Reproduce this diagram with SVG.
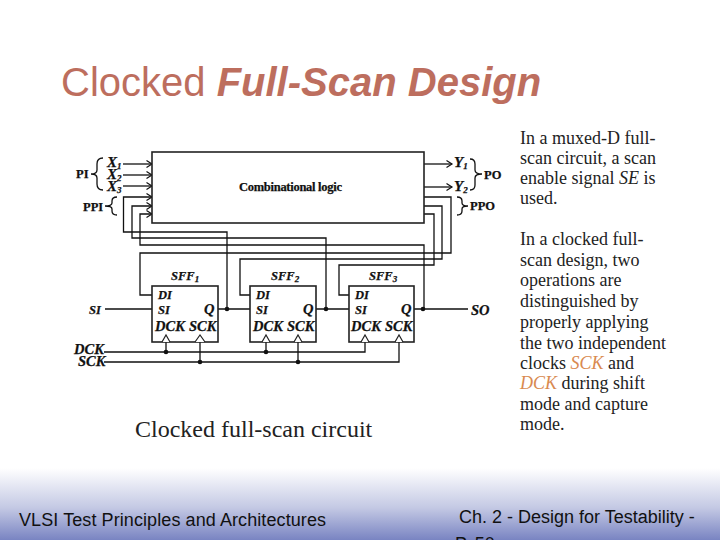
<svg xmlns="http://www.w3.org/2000/svg" width="720" height="540" viewBox="0 0 720 540">
<style>
.w{fill:none;stroke:#111;stroke-width:1.3}
.b{fill:#fff;stroke:#222;stroke-width:1.6}
.l{font:bold 12.500px "Liberation Serif",serif;fill:#111;stroke:#111;stroke-width:.25}
.i{font:italic bold 12.500px "Liberation Serif",serif;fill:#111;stroke:#111;stroke-width:.25}
.k{font-size:14.500px}
.x{font-size:15px}
.s{font-size:9px}
.r{font:18px "Liberation Serif",serif;fill:#222}
.o{font-style:italic;fill:#d98a50}
.f{font:18px "Liberation Sans",sans-serif;fill:#111}
.d{fill:#111}
.t{fill:#fff;stroke:#222;stroke-width:1.2}
</style>
<defs>
<linearGradient id="g" x1="0" y1="0" x2="0" y2="1"><stop offset="0" stop-color="#fff"/><stop offset="0.55" stop-color="#c4c9e4"/><stop offset="1" stop-color="#7984c2"/></linearGradient>
<marker id="a" markerWidth="8" markerHeight="8" refX="6.500" refY="4" orient="auto" markerUnits="userSpaceOnUse"><path d="M1 0.500L6.500 4L1 7.500" fill="none" stroke="#111" stroke-width="1.200"/></marker>
</defs>
<rect width="720" height="540" fill="#fff"/>
<rect y="468" width="720" height="72" fill="url(#g)"/>
<text x="61" y="96" font-family="Liberation Sans,sans-serif" font-size="40" fill="#bd6e5e">Clocked <tspan font-weight="bold" font-style="italic">Full-Scan Design</tspan></text>

<g id="connectors">
<path class="w" marker-end="url(#a)" d="M123 164H152"/>
<path class="w" marker-end="url(#a)" d="M123 175H152"/>
<path class="w" marker-end="url(#a)" d="M123 186H152"/>
<path class="w" marker-end="url(#a)" d="M227 309V232H123.500V197H152"/>
<path class="w" marker-end="url(#a)" d="M326 309V238H132V206H152"/>
<path class="w" marker-end="url(#a)" d="M424 309V245H140V214H152"/>
<path class="w" marker-end="url(#a)" d="M424 164H452"/>
<path class="w" marker-end="url(#a)" d="M424 187H452"/>
<path class="w" d="M424 197H451V253H140V295H152"/>
<path class="w" d="M424 206H442V259H240V295H250"/>
<path class="w" d="M424 214H434V265H339V295H349"/>
<path class="w" d="M105 309H152M218 309H250M316 309H349M414 309H468"/>
<path class="w" d="M104 352H365V342M104 362H399V342M166 352V342M200 362V342M266 352V342M298 362V342"/>
<circle class="d" cx="227" cy="309" r="2.300"/><circle class="d" cx="326" cy="309" r="2.300"/><circle class="d" cx="423" cy="309" r="2.300"/>
<circle class="d" cx="166" cy="352" r="2.300"/><circle class="d" cx="200" cy="362" r="2.300"/><circle class="d" cx="266" cy="352" r="2.300"/><circle class="d" cx="298" cy="362" r="2.300"/>
<path class="w" d="M103 158C98 158 97 161 97 164V170C97 172 95 174 91 174C95 174 97 176 97 178V184C97 187 98 190 103 190"/>
<path class="w" d="M117 197C113 197 112 199 112 201V203C112 205 109 206 105 206C109 206 112 207 112 209V211C112 213 113 215 117 215"/>
<path class="w" d="M470 159C474 159 475 161 475 164V170C475 172 477 174 482 174C477 174 475 176 475 178V185C475 188 474 190 470 190"/>
<path class="w" d="M457 197C461 197 462 199 462 201V203C462 205 464 206 468 206C464 206 462 207 462 209V211C462 213 461 215 457 215"/>
</g>

<g id="logic"><rect class="b" x="152" y="152" width="272" height="71"/><text class="l" x="239" y="191" textLength="103">Combinational logic</text></g>

<g id="sff1"><rect class="b" x="152" y="286" width="66" height="56"/><path class="t" d="M162 342L166 335L170 342"/><path class="t" d="M195 342L200 335L205 342"/>
<text class="i" x="171" y="280">SFF<tspan class="s" dy="2">1</tspan></text><text class="i" x="158" y="299">DI</text><text class="i" x="158" y="314">SI</text><text class="i k" x="204" y="314">Q</text><text class="i k" x="155" y="331">DCK</text><text class="i k" x="189" y="331">SCK</text></g>
<g id="sff2"><rect class="b" x="250" y="286" width="66" height="56"/><path class="t" d="M262 342L266 335L270 342"/><path class="t" d="M294 342L298 335L302 342"/>
<text class="i" x="271" y="280">SFF<tspan class="s" dy="2">2</tspan></text><text class="i" x="256" y="299">DI</text><text class="i" x="256" y="314">SI</text><text class="i k" x="303" y="314">Q</text><text class="i k" x="253" y="331">DCK</text><text class="i k" x="287" y="331">SCK</text></g>
<g id="sff3"><rect class="b" x="349" y="286" width="65" height="56"/><path class="t" d="M361 342L365 335L369 342"/><path class="t" d="M395 342L399 335L403 342"/>
<text class="i" x="369" y="280">SFF<tspan class="s" dy="2">3</tspan></text><text class="i" x="355" y="299">DI</text><text class="i" x="355" y="314">SI</text><text class="i k" x="401" y="314">Q</text><text class="i k" x="351" y="331">DCK</text><text class="i k" x="385" y="331">SCK</text></g>

<g id="labels">
<text class="l" x="76" y="178">PI</text><text class="l" x="83" y="211">PPI</text>
<text class="i x" x="107" y="167">X<tspan class="s" dy="2">1</tspan></text><text class="i x" x="107" y="179">X<tspan class="s" dy="2">2</tspan></text><text class="i x" x="107" y="191">X<tspan class="s" dy="2">3</tspan></text>
<text class="i x" x="454" y="167">Y<tspan class="s" dy="2">1</tspan></text><text class="i x" x="454" y="191">Y<tspan class="s" dy="2">2</tspan></text>
<text class="l" x="484" y="179">PO</text><text class="l" x="470" y="210">PPO</text>
<text class="i" x="89" y="314">SI</text><text class="i k" x="471" y="315">SO</text>
<text class="i k" x="74" y="354">DCK</text><text class="i k" x="78" y="366">SCK</text>
</g>

<text x="135" y="437" font-family="Liberation Serif,serif" font-size="24" fill="#222">Clocked full-scan circuit</text>

<g>
<text class="r" x="520" y="144">In a muxed-D full-</text>
<text class="r" x="520" y="164">scan circuit, a scan</text>
<text class="r" x="520" y="184">enable signal <tspan font-style="italic">SE</tspan> is</text>
<text class="r" x="520" y="204">used.</text>
<text class="r" x="520" y="245">In a clocked full-</text>
<text class="r" x="520" y="266">scan design, two</text>
<text class="r" x="520" y="286">operations are</text>
<text class="r" x="520" y="307">distinguished by</text>
<text class="r" x="520" y="328">properly applying</text>
<text class="r" x="520" y="349">the two independent</text>
<text class="r" x="520" y="369">clocks <tspan class="o">SCK</tspan> and</text>
<text class="r" x="520" y="389"><tspan class="o">DCK</tspan> during shift</text>
<text class="r" x="520" y="410">mode and capture</text>
<text class="r" x="520" y="430">mode.</text>
</g>
<text class="f" x="19" y="526" textLength="307">VLSI Test Principles and Architectures</text>
<text class="f" x="459" y="523">Ch. 2 - Design for Testability -</text>
<text class="f" x="455" y="550">P. 50</text>
</svg>
